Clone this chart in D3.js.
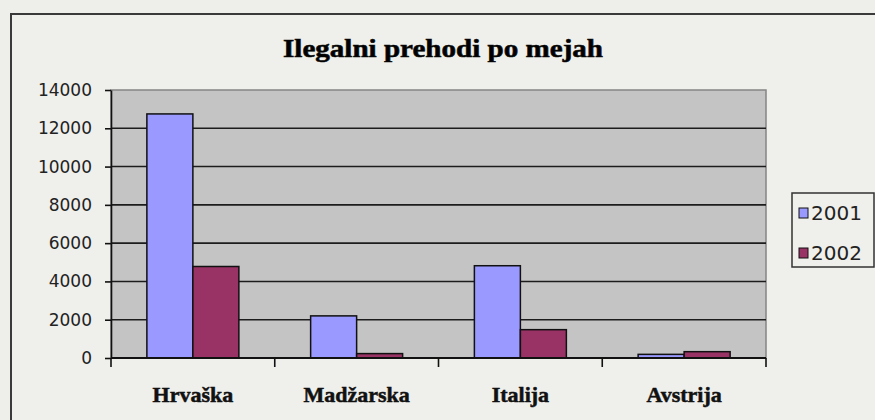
<!DOCTYPE html>
<html>
<head>
<meta charset="utf-8">
<script src="https://cdn.jsdelivr.net/npm/d3@7"></script>
<style>
  html, body { margin: 0; padding: 0; background: #eeeeea; }
  svg { display: block; }
</style>
</head>
<body>
<div id="canvas"></div>
<script>
// data
const categories = ["Hrvaška", "Madžarska", "Italija", "Avstrija"];
const seriesNames = ["2001", "2002"];
const values2001 = [12750, 2200, 4820, 190];
const values2002 = [4780, 230, 1480, 330];
const yTicks = [0, 2000, 4000, 6000, 8000, 10000, 12000, 14000];
const colors = ["#9999ff", "#993366"];

const width = 875;
const height = 420;
const margin = { top: 90, left: 111, bottom: 62, right: 109 };
const iwidth = width - margin.left - margin.right;
const iheight = height - margin.top - margin.bottom;

const rows = categories.map((c, i) => ({ cat: c, vals: [values2001[i], values2002[i]] }));

const svg = d3.select("#canvas").append("svg")
    .attr("width", width)
    .attr("height", height);

svg.append("rect")
    .attr("width", width).attr("height", height)
    .attr("fill", "#eeeeea");

// outer chart frame
svg.append("rect")
    .attr("x", 11).attr("y", 14)
    .attr("width", width).attr("height", height)
    .attr("fill", "#efefeb")
    .attr("stroke", "#3a3a3a")
    .attr("stroke-width", 2);

svg.append("text")
    .attr("x", 443).attr("y", 57)
    .attr("text-anchor", "middle")
    .attr("textLength", 320)
    .attr("lengthAdjust", "spacingAndGlyphs")
    .style("font-family", "'Liberation Serif', serif")
    .style("font-weight", "bold")
    .style("font-size", "26px")
    .attr("stroke", "#111").attr("stroke-width", 0.6)
    .text("Ilegalni prehodi po mejah");

const g = svg.append("g").attr("transform", `translate(${margin.left},${margin.top})`);

const y = d3.scaleLinear()
    .domain([0, 14000])
    .range([iheight, 0]);

const x0 = d3.scaleBand()
    .domain(categories)
    .range([0, iwidth])
    .padding(0);

const x1 = d3.scaleBand()
    .domain(seriesNames)
    .range([0, x0.bandwidth()])
    .paddingInner(0)
    .paddingOuter(0.78);

// plot area
g.append("rect")
    .attr("width", iwidth).attr("height", iheight)
    .attr("fill", "#c4c4c4")
    .attr("stroke", "#858585")
    .attr("stroke-width", 1.5);

// gridlines
g.append("g")
    .selectAll("line")
    .data(yTicks.filter(d => d > 0 && d < 14000))
    .enter().append("line")
    .attr("x1", 0).attr("x2", iwidth)
    .attr("y1", d => y(d)).attr("y2", d => y(d))
    .attr("stroke", "#1c1c1c")
    .attr("stroke-width", 1.6);

// bars
const groups = g.selectAll(".grp").data(rows)
    .enter().append("g")
    .attr("class", "grp")
    .attr("transform", d => `translate(${x0(d.cat)},0)`);

groups.selectAll("rect")
    .data(d => d.vals.map((v, i) => ({ s: seriesNames[i], v: v, i: i })))
    .enter().append("rect")
    .attr("x", d => x1(d.s))
    .attr("y", d => y(d.v))
    .attr("width", x1.bandwidth())
    .attr("height", d => iheight - y(d.v))
    .attr("fill", d => colors[d.i])
    .attr("stroke", "#111")
    .attr("stroke-width", 1.5);

// y axis
const yAxis = g.append("g")
    .call(d3.axisLeft(y).tickValues(yTicks).tickFormat(d3.format("d"))
        .tickSize(6).tickSizeOuter(0).tickPadding(13));
yAxis.select(".domain").attr("stroke", "#111").attr("stroke-width", 1.6);
yAxis.selectAll(".tick line").attr("stroke", "#111").attr("stroke-width", 1.6);
yAxis.selectAll("text")
    .style("font-family", "'DejaVu Sans', sans-serif")
    .style("font-size", "17px")
    .attr("fill", "#222");

// x axis: ticks on category boundaries
const bounds = categories.map(c => x0(c)).concat([x0.range()[1]]);
g.append("line")
    .attr("x1", 0).attr("x2", iwidth)
    .attr("y1", iheight).attr("y2", iheight)
    .attr("stroke", "#111").attr("stroke-width", 1.8);
g.append("g").selectAll("line").data(bounds)
    .enter().append("line")
    .attr("x1", d => d).attr("x2", d => d)
    .attr("y1", iheight).attr("y2", iheight + 9)
    .attr("stroke", "#111").attr("stroke-width", 1.6);

const xAxis = g.append("g")
    .attr("transform", `translate(0, ${iheight})`)
    .call(d3.axisBottom(x0).tickSize(0).tickPadding(28));
xAxis.select(".domain").remove();
xAxis.selectAll("text")
    .style("font-family", "'Liberation Serif', serif")
    .style("font-weight", "bold")
    .style("font-size", "22px")
    .attr("fill", "#111")
    .attr("stroke", "#111").attr("stroke-width", 0.5);

// legend
const legend = svg.append("g").attr("transform", "translate(792,193)");
legend.append("rect")
    .attr("width", 82).attr("height", 74)
    .attr("fill", "#efefeb")
    .attr("stroke", "#333")
    .attr("stroke-width", 1.5);
const items = legend.selectAll(".item").data(seriesNames)
    .enter().append("g")
    .attr("class", "item")
    .attr("transform", (d, i) => `translate(7,${20 + i * 40})`);
items.append("rect")
    .attr("x", 0).attr("y", -5)
    .attr("width", 9).attr("height", 10)
    .attr("fill", (d, i) => colors[i])
    .attr("stroke", "#111").attr("stroke-width", 1);
items.append("text")
    .attr("x", 12).attr("y", 0)
    .attr("dy", "0.36em")
    .style("font-family", "'DejaVu Sans', sans-serif")
    .style("font-size", "20px")
    .attr("fill", "#222")
    .text(d => d);
</script>
</body>
</html>
